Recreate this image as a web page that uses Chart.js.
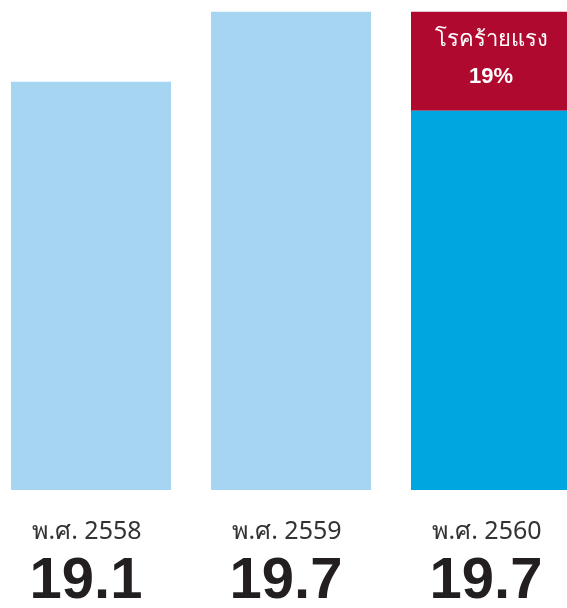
<!DOCTYPE html>
<html>
<head>
<meta charset="utf-8">
<script src="https://cdn.jsdelivr.net/npm/chart.js@4.4.1/dist/chart.umd.min.js"></script>
<style>
    html, body { margin: 0; padding: 0; background: #fff; overflow: hidden; width: 567px; height: 608px; }
    #wrap { position: absolute; left: -9px; top: 0; width: 600px; height: 608px; }
</style>
</head>
<body>
<div id="wrap"><canvas id="injuryChart"></canvas></div>
<script>
// data
const years = ['พ.ศ. 2558', 'พ.ศ. 2559', 'พ.ศ. 2560'];
const values = [19.1, 19.7, 19.7];
const valueLabels = ['19.1', '19.7', '19.7'];
// the red "severe" block on the last bar, lower edge as read on the axis
const severeFrom = [null, null, 18.85];
const severeTitle = 'โรคร้ายแรง';
const severeShare = '19%';
const yMin = 15.6;
const yMax = 19.8;

const barColors = ['#A6D5F2', '#A6D5F2', '#00A6E0'];

const severeLabel = {
    id: 'severeLabel',
    afterDatasetsDraw(chart) {
        const meta = chart.getDatasetMeta(1);
        const ctx = chart.ctx;
        meta.data.forEach((bar, i) => {
            if (severeFrom[i] === null) return;
            const mid = (bar.y + bar.base) / 2;
            ctx.save();
            ctx.fillStyle = '#fff';
            ctx.textAlign = 'center';
            ctx.textBaseline = 'middle';
            ctx.font = '22px "Noto Sans", sans-serif';
            ctx.fillText(severeTitle, bar.x, mid - 22);
            ctx.font = 'bold 22px "Liberation Sans", Arial, sans-serif';
            ctx.fillText(severeShare, bar.x, mid + 16);
            ctx.restore();
        });
    }
};

function initializeInjuryChart() {
    const ctx = document.getElementById('injuryChart').getContext('2d');
    new Chart(ctx, {
        type: 'bar',
        data: {
            labels: years,
            datasets: [{
                label: 'total',
                data: values.map((v, i) => severeFrom[i] === null ? v : severeFrom[i]),
                backgroundColor: barColors,
                grouped: false,
                barPercentage: 0.8,
                categoryPercentage: 1
            }, {
                label: 'severe',
                data: values.map((v, i) => severeFrom[i] === null ? null : [severeFrom[i], v]),
                backgroundColor: '#B0092F',
                grouped: false,
                barPercentage: 0.8,
                categoryPercentage: 1
            }]
        },
        options: {
            responsive: true,
            maintainAspectRatio: false,
            animation: false,
            layout: { padding: 0 },
            plugins: {
                legend: { display: false },
                tooltip: { enabled: false }
            },
            scales: {
                y: {
                    display: false,
                    min: yMin,
                    max: yMax
                },
                x: {
                    position: 'bottom',
                    weight: 0,
                    offset: true,
                    grid: { display: false, drawTicks: false },
                    border: { display: false },
                    ticks: {
                        color: '#333',
                        font: { size: 25, family: '"Noto Sans", sans-serif' },
                        padding: 27,
                        labelOffset: -4,
                        maxRotation: 0
                    },
                    afterFit: s => { s.height = 50; }
                },
                x2: {
                    type: 'category',
                    labels: valueLabels,
                    position: 'bottom',
                    weight: 1,
                    offset: true,
                    grid: { display: false, drawTicks: false },
                    border: { display: false },
                    ticks: {
                        color: '#231F20',
                        font: { size: 58, weight: 'bold', family: '"Liberation Sans", Arial, sans-serif' },
                        padding: 7,
                        labelOffset: -5,
                        maxRotation: 0
                    },
                    afterFit: s => { s.height = 68; }
                }
            }
        },
        plugins: [severeLabel]
    });
}

document.addEventListener('DOMContentLoaded', initializeInjuryChart);
</script>
</body>
</html>
